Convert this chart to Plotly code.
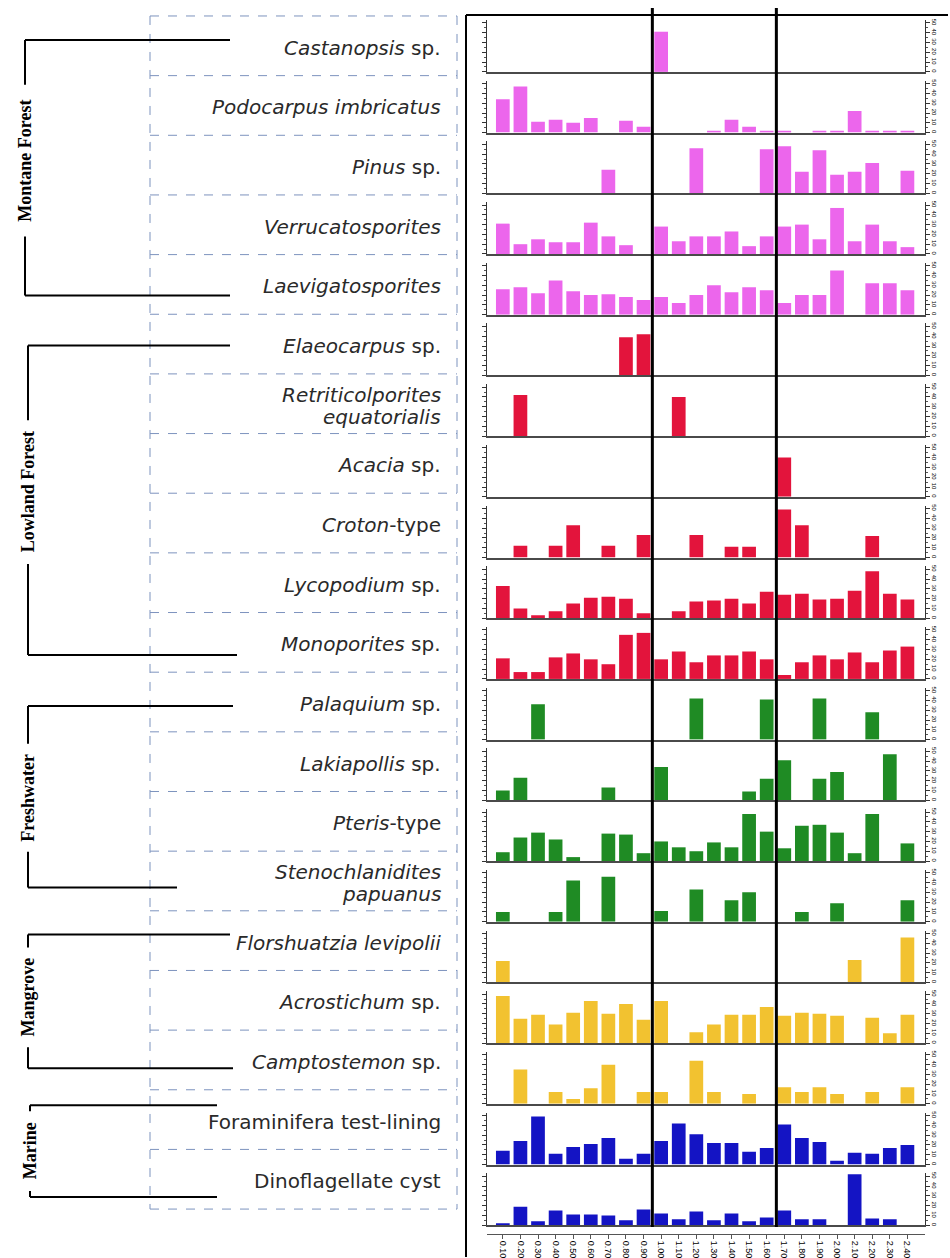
import plotly.graph_objects as go

# ---- sample depths (x axis) ----
depths = ["0.10", "0.20", "0.30", "0.40", "0.50", "0.60", "0.70", "0.80",
          "0.90", "1.00", "1.10", "1.20", "1.30", "1.40", "1.50", "1.60",
          "1.70", "1.80", "1.90", "2.00", "2.10", "2.20", "2.30", "2.40"]

# ---- taxon abundances (%) per sample ----
castanopsis = [0, 0, 0, 0, 0, 0, 0, 0, 0, 41, 0, 0, 0, 0, 0, 0, 0, 0, 0, 0, 0, 0, 0, 0]
podocarpus = [34, 47, 11, 13, 10, 15, 0, 12, 6, 0, 0, 0, 2, 13, 6, 2, 1, 0, 1, 1, 22, 1, 1, 1]
pinus = [0, 0, 0, 0, 0, 0, 24, 0, 0, 0, 0, 46, 0, 0, 0, 45, 48, 22, 44, 19, 22, 31, 0, 23]
verrucatosporites = [31, 10, 15, 12, 12, 32, 18, 9, 0, 28, 13, 18, 18, 23, 8, 18, 28, 30, 15, 47, 13, 30, 13, 7]
laevigatosporites = [26, 28, 22, 35, 24, 20, 21, 18, 15, 18, 12, 20, 30, 23, 28, 25, 12, 20, 20, 45, 0, 32, 32, 25]
elaeocarpus = [0, 0, 0, 0, 0, 0, 0, 39, 42, 0, 0, 0, 0, 0, 0, 0, 0, 0, 0, 0, 0, 0, 0, 0]
retriticolporites = [0, 42, 0, 0, 0, 0, 0, 0, 0, 0, 40, 0, 0, 0, 0, 0, 0, 0, 0, 0, 0, 0, 0, 0]
acacia = [0, 0, 0, 0, 0, 0, 0, 0, 0, 0, 0, 0, 0, 0, 0, 0, 40, 0, 0, 0, 0, 0, 0, 0]
croton = [0, 12, 0, 12, 33, 0, 12, 0, 23, 0, 0, 23, 0, 11, 11, 0, 49, 33, 0, 0, 0, 22, 0, 0]
lycopodium = [33, 10, 3, 7, 15, 21, 22, 20, 5, 0, 7, 17, 18, 20, 15, 27, 24, 25, 19, 20, 28, 48, 25, 19]
monoporites = [21, 7, 7, 22, 26, 20, 15, 45, 47, 20, 28, 17, 24, 24, 28, 20, 4, 17, 24, 20, 27, 17, 29, 33]
palaquium = [0, 0, 36, 0, 0, 0, 0, 0, 0, 0, 0, 42, 0, 0, 0, 41, 0, 0, 42, 0, 0, 28, 0, 0]
lakiapollis = [10, 23, 0, 0, 0, 0, 13, 0, 0, 34, 0, 0, 0, 0, 9, 22, 41, 0, 22, 29, 0, 0, 47, 0]
pteris = [9, 24, 29, 22, 4, 0, 28, 27, 8, 20, 14, 10, 19, 14, 48, 30, 13, 36, 37, 29, 8, 48, 0, 18]
stenochlaenidites = [10, 0, 0, 10, 42, 0, 46, 0, 0, 11, 0, 33, 0, 22, 30, 0, 0, 10, 0, 19, 0, 0, 0, 22]
florschuetzia = [22, 0, 0, 0, 0, 0, 0, 0, 0, 0, 0, 0, 0, 0, 0, 0, 0, 0, 0, 0, 23, 0, 0, 46]
acrostichum = [48, 25, 29, 19, 31, 43, 30, 40, 24, 43, 0, 11, 19, 29, 29, 37, 28, 31, 30, 28, 0, 26, 10, 29]
camptostemon = [0, 35, 0, 12, 5, 16, 40, 0, 12, 12, 0, 44, 12, 0, 10, 0, 17, 12, 17, 10, 0, 12, 0, 17]
foraminifera = [14, 24, 49, 11, 18, 21, 27, 6, 11, 24, 42, 31, 22, 22, 13, 17, 41, 27, 23, 4, 12, 11, 17, 20]
dinoflagellate = [1, 19, 4, 15, 11, 11, 10, 5, 16, 12, 6, 14, 5, 12, 4, 8, 15, 6, 6, 0, 52, 7, 6, 0]

# ---- taxon labels and ecological groups ----
taxon_labels = [
    "<i>Castanopsis</i> sp.", "<i>Podocarpus imbricatus</i>", "<i>Pinus</i> sp.",
    "<i>Verrucatosporites</i>", "<i>Laevigatosporites</i>", "<i>Elaeocarpus</i> sp.",
    "<i>Retriticolporites</i>\n<i>equatorialis</i>", "<i>Acacia</i> sp.", "<i>Croton</i>-type",
    "<i>Lycopodium</i> sp.", "<i>Monoporites</i> sp.", "<i>Palaquium</i> sp.",
    "<i>Lakiapollis</i> sp.", "<i>Pteris</i>-type", "<i>Stenochlanidites</i>\n<i>papuanus</i>",
    "<i>Florshuatzia levipolii</i>", "<i>Acrostichum</i> sp.", "<i>Camptostemon</i> sp.",
    "Foraminifera test-lining", "Dinoflagellate cyst",
]
series = [castanopsis, podocarpus, pinus, verrucatosporites, laevigatosporites,
          elaeocarpus, retriticolporites, acacia, croton, lycopodium, monoporites,
          palaquium, lakiapollis, pteris, stenochlaenidites, florschuetzia,
          acrostichum, camptostemon, foraminifera, dinoflagellate]
group_names = ["Montane Forest", "Lowland Forest", "Freshwater", "Mangrove", "Marine"]
group_sizes = [5, 6, 4, 3, 2]
group_colors = ["#EC66EC", "#E3143C", "#1F8B24", "#F2C230", "#1414C4"]
zone_bounds = [8.5, 15.55]

W, H = 950, 1258


def py(px):
    """pixel row (from top) -> paper y"""
    return 1 - px / H


def pxx(px):
    return px / W


fig = go.Figure()
layout = dict(width=W, height=H, margin=dict(l=0, r=0, t=0, b=0),
              paper_bgcolor="white", plot_bgcolor="white", showlegend=False,
              bargap=0.22)

colors = []
for name, n, c in zip(group_names, group_sizes, group_colors):
    colors += [c] * n

x_dom = [pxx(487), pxx(925)]
x_range = [-0.9, 24.0]
panel_h = 52
n_panels = len(series)
xs = list(range(len(depths)))

for i, vals in enumerate(series):
    k = i + 1
    base = 71 + 60.8 * i
    xa = "x" if k == 1 else f"x{k}"
    ya = "y" if k == 1 else f"y{k}"
    fig.add_trace(go.Bar(x=xs, y=vals, marker=dict(color=colors[i], line=dict(width=0)),
                         xaxis=xa, yaxis=ya, hoverinfo="y"))
    layout[f"xaxis{k}" if k > 1 else "xaxis"] = dict(
        domain=x_dom, anchor=ya, range=x_range, showline=True, linecolor="#4a4a4a",
        linewidth=1.5, showgrid=False, zeroline=False, ticks="", showticklabels=False,
        **({} if k == 1 else {"matches": "x"}))
    layout[f"yaxis{k}" if k > 1 else "yaxis"] = dict(
        domain=[py(base), py(base - panel_h)], anchor=xa, range=[0, 53],
        side="right", showline=True, linecolor="#333", linewidth=1, mirror="ticks",
        ticks="outside", ticklen=4, tickwidth=1, tickcolor="#333", dtick=10,
        minor=dict(ticks="outside", ticklen=2, dtick=5, tickcolor="#555"),
        showgrid=False, zeroline=False, tickangle=90,
        tickfont=dict(family="Liberation Sans", size=6, color="black"))

# depth axis below the lowest panel
fig.add_trace(go.Scatter(x=[None], y=[None], xaxis="x21", yaxis=f"y{n_panels}",
                         showlegend=False, hoverinfo="skip"))
layout["xaxis21"] = dict(domain=x_dom, overlaying=f"x{n_panels}", anchor="free",
                         position=py(1235), range=x_range, showline=True,
                         linecolor="#555", linewidth=1, ticks="outside", ticklen=4,
                         tickcolor="#555", tickvals=xs, ticktext=depths, tickangle=90,
                         showgrid=False, zeroline=False,
                         tickfont=dict(family="Liberation Sans", size=9, color="black"))

shapes = []
annotations = []

# outer frame
shapes.append(dict(type="line", xref="paper", yref="paper", x0=pxx(466), x1=pxx(466),
                   y0=py(14), y1=py(1258), line=dict(color="black", width=2)))
shapes.append(dict(type="line", xref="paper", yref="paper", x0=pxx(466), x1=pxx(948),
                   y0=py(14), y1=py(14), line=dict(color="black", width=2)))

# zone boundaries
for zb in zone_bounds:
    shapes.append(dict(type="line", xref="x", yref="paper", x0=zb, x1=zb,
                       y0=py(1228), y1=py(7), line=dict(color="black", width=3),
                       layer="above"))

# dashed taxon table
box_l, box_r, box_t, row_h = 150, 457, 15, 59.75
dash_col = "#7D93BE"
shapes.append(dict(type="line", xref="paper", yref="paper", x0=pxx(box_l), x1=pxx(box_l),
                   y0=py(box_t), y1=py(box_t + row_h * n_panels),
                   line=dict(color=dash_col, width=1, dash="dash")))
shapes.append(dict(type="line", xref="paper", yref="paper", x0=pxx(box_r), x1=pxx(box_r),
                   y0=py(box_t), y1=py(box_t + row_h * n_panels),
                   line=dict(color=dash_col, width=1, dash="dash")))
for j in range(n_panels + 1):
    yy = box_t + row_h * j
    shapes.append(dict(type="line", xref="paper", yref="paper", x0=pxx(box_l), x1=pxx(box_r),
                       y0=py(yy), y1=py(yy), line=dict(color=dash_col, width=1, dash="dash")))

label_font = dict(family="DejaVu Sans", size=20, color="#2a2a2a")
for j, lab in enumerate(taxon_labels):
    cy = box_t + row_h * (j + 0.5) + 2
    lines = lab.split("\n")
    offs = [0] if len(lines) == 1 else [-11, 11]
    for ln, off in zip(lines, offs):
        annotations.append(dict(text=ln, xref="paper", yref="paper", x=pxx(443), y=py(cy + off),
                                xanchor="right", yanchor="middle", showarrow=False,
                                font=label_font))

# ecological group brackets: (x, top, bottom, top arm end, bottom arm end, label centre)
brackets = [
    (25, 39, 295, 230, 230, 160),
    (28, 345, 655, 230, 237, 492),
    (28, 706, 888, 233, 177, 798),
    (28, 935, 1069, 230, 233, 998),
    (30, 1106, 1198, 217, 217, 1152),
]
grp_font = dict(family="Liberation Serif", size=18, color="black")
half_len = [68, 64, 46, 42, 32]
for (bx, bt, bb, ta, ba, lc), name, hl in zip(brackets, group_names, half_len):
    line = dict(color="black", width=2)
    shapes.append(dict(type="line", xref="paper", yref="paper", x0=pxx(bx), x1=pxx(ta),
                       y0=py(bt), y1=py(bt), line=line))
    shapes.append(dict(type="line", xref="paper", yref="paper", x0=pxx(bx), x1=pxx(ba),
                       y0=py(bb), y1=py(bb), line=line))
    shapes.append(dict(type="line", xref="paper", yref="paper", x0=pxx(bx), x1=pxx(bx),
                       y0=py(bt), y1=py(lc - hl - 8), line=line))
    shapes.append(dict(type="line", xref="paper", yref="paper", x0=pxx(bx), x1=pxx(bx),
                       y0=py(lc + hl + 8), y1=py(bb), line=line))
    annotations.append(dict(text=f"<b>{name}</b>", xref="paper", yref="paper", x=pxx(bx),
                            y=py(lc), textangle=-90, showarrow=False, xanchor="center",
                            yanchor="middle", font=grp_font))

layout["shapes"] = shapes
layout["annotations"] = annotations
fig.update_layout(**layout)
fig.write_html("out.html")
